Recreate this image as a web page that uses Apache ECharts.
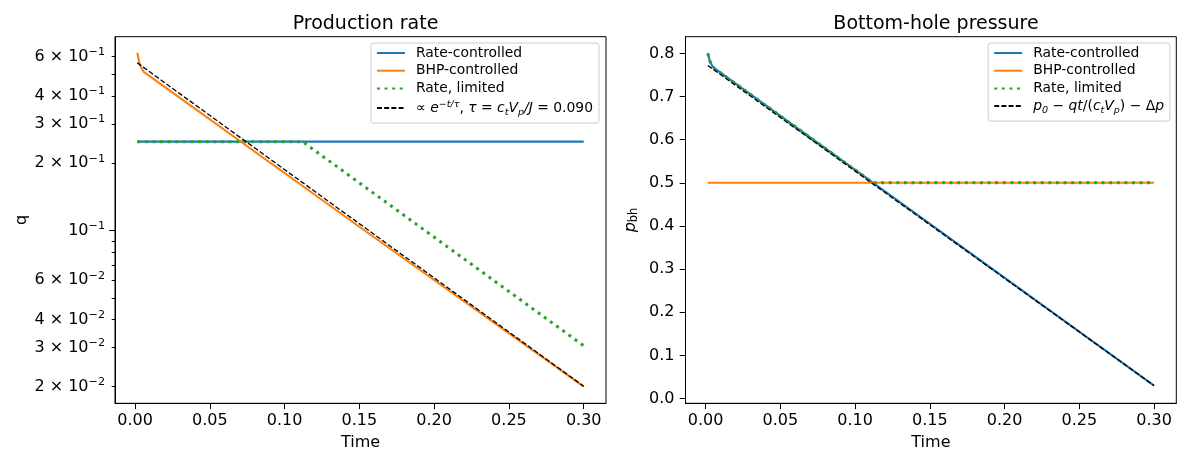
<!DOCTYPE html>
<html>
<head>
<meta charset="utf-8">
<script src="https://cdn.jsdelivr.net/npm/echarts@6/dist/echarts.min.js"></script>
<style>
  html, body { margin: 0; padding: 0; background: #fff; }
  #main { width: 1188px; height: 467px; }
</style>
</head>
<body>
<div id="main"></div>
<script>
// ---- data ----
// Production rate (left panel, log scale)
const tRateQ = [0.0015, 0.3];
const qRate = [0.25, 0.25];
const tBhpQ = [0.0015, 0.003, 0.0045, 0.006, 0.15, 0.3];
const qBhp = [0.625, 0.56, 0.53, 0.512, 0.104, 0.0200];
const tLimQ = [0.0015, 0.112, 0.3];
const qLim = [0.25, 0.25, 0.0305];
const tExpQ = [0.0015, 0.3];
const qExp = [0.563, 0.0201];

// Bottom-hole pressure (right panel)
const tRateP = [0.0015, 0.003, 0.0045, 0.006, 0.3];
const pRate = [0.800, 0.781, 0.771, 0.765, 0.030];
const tBhpP = [0.0015, 0.3];
const pBhp = [0.5, 0.5];
const tLimP = [0.0015, 0.003, 0.0045, 0.006, 0.112, 0.3];
const pLim = [0.800, 0.781, 0.771, 0.765, 0.5, 0.5];
const tLinP = [0.0015, 0.3];
const pLin = [0.772, 0.030];

// ticks
const xTicks = [0, 0.05, 0.1, 0.15, 0.2, 0.25, 0.3];
const qTickVals = [0.02, 0.03, 0.04, 0.06, 0.1, 0.2, 0.3, 0.4, 0.6];
const qTickLabels = ['{b|2 × 10}{s|−2}', '{b|3 × 10}{s|−2}', '{b|4 × 10}{s|−2}', '{b|6 × 10}{s|−2}', '{b|10}{s|−1}',
                     '{b|2 × 10}{s|−1}', '{b|3 × 10}{s|−1}', '{b|4 × 10}{s|−1}', '{b|6 × 10}{s|−1}'];
const qMajorTicks = [0.1];
const qMinorTicks = [0.02, 0.03, 0.04, 0.05, 0.06, 0.07, 0.08, 0.09, 0.2, 0.3, 0.4, 0.5, 0.6];
const pTicks = [0, 0.1, 0.2, 0.3, 0.4, 0.5, 0.6, 0.7, 0.8];

const COLORS = { blue: '#1f77b4', orange: '#ff7f0e', green: '#2ca02c', black: '#000000' };
const FONT = 'DejaVu Sans';
const TICK_FS = 16;

// log-scale panel is drawn on a value axis holding log10(q)
const lg = v => Math.log10(v);
const pairs = (xs, ys, f) => xs.map((x, i) => [x, f ? f(ys[i]) : ys[i]]);

const legendText = {
  'Rate-controlled': '{m|Rate-controlled}',
  'BHP-controlled': '{m|BHP-controlled}',
  'Rate, limited': '{m|Rate, limited}',
  'expFit': '{m|∝ }{i|e}{sup|−t/τ}{m|, }{i|τ}{m| = }{i|c}{sub|t}{i|V}{sub|p}{i|/J}{m| = 0.090}',
  'linFit': '{i|p}{sub|0}{m| − }{i|qt}{m|/(}{i|c}{sub|t}{i|V}{sub|p}{m|) − Δ}{i|p}'
};
const richLegend = {
  m: { fontFamily: FONT, fontSize: 13.9, lineHeight: 18, color: '#000', verticalAlign: 'middle' },
  i: { fontFamily: FONT, fontSize: 13.9, lineHeight: 18, color: '#000', fontStyle: 'italic', verticalAlign: 'middle' },
  sup: { fontFamily: FONT, fontSize: 9.5, lineHeight: 11, color: '#000', fontStyle: 'italic', verticalAlign: 'top' },
  sub: { fontFamily: FONT, fontSize: 9.5, lineHeight: 9, color: '#000', fontStyle: 'italic', verticalAlign: 'bottom' }
};

function legendCfg(right, names) {
  return {
    orient: 'vertical',
    right: right,
    top: 43,
    data: names,
    itemWidth: 28,
    itemHeight: 14,
    itemGap: 3.7,
    padding: [3, 6, 6, 5],
    backgroundColor: 'rgba(255,255,255,0.8)',
    borderColor: '#cccccc',
    borderWidth: 1,
    borderRadius: 3,
    selectedMode: false,
    itemStyle: { opacity: 0, borderWidth: 0 },
    formatter: n => legendText[n] || n,
    textStyle: { fontFamily: FONT, fontSize: 13.9, color: '#000', padding: [0, 0, 0, 6], rich: richLegend }
  };
}

const xAxisCfg = idx => ({
  type: 'value', gridIndex: idx, min: -0.0134, max: 0.3149,
  name: 'Time', nameLocation: 'middle', nameGap: 32,
  nameTextStyle: { fontFamily: FONT, fontSize: TICK_FS, color: '#000' },
  axisLine: { show: true, onZero: false, lineStyle: { color: '#000', width: 1 } },
  axisTick: { show: true, length: 5.8, lineStyle: { color: '#000', width: 1 }, customValues: xTicks },
  axisLabel: { fontFamily: FONT, fontSize: TICK_FS, color: '#000', margin: 10, customValues: xTicks,
               formatter: v => v.toFixed(2) },
  splitLine: { show: false }
});

const line = (name, data, xi, yi, color, extra) => Object.assign({
  name: name, type: 'line', xAxisIndex: xi, yAxisIndex: yi, data: data,
  symbol: 'none', showSymbol: false, animation: false, silent: true,
  lineStyle: { color: color, width: 2.1 }, itemStyle: { color: color }
}, extra || {});

const dotted = { lineStyle: { color: COLORS.green, width: 3, type: [3, 4.6], cap: 'butt' } };
const dashed = { lineStyle: { color: COLORS.black, width: 1.3, type: [5, 2.2], cap: 'butt' } };

const chart = echarts.init(document.getElementById('main'), null, { renderer: 'canvas' });
chart.setOption({
  backgroundColor: '#fff',
  animation: false,
  title: [
    { text: 'Production rate', left: 360.5, top: 7, textAlign: 'center',
      textStyle: { fontFamily: FONT, fontSize: 19, fontWeight: 'normal', color: '#000', lineHeight: 24 } },
    { text: 'Bottom-hole pressure', left: 931, top: 7, textAlign: 'center',
      textStyle: { fontFamily: FONT, fontSize: 19, fontWeight: 'normal', color: '#000', lineHeight: 24 } }
  ],
  grid: [
    { left: 115, top: 36.7, width: 491, height: 366.6, show: true, borderColor: '#000', borderWidth: 1, backgroundColor: 'transparent' },
    { left: 685.5, top: 36.7, width: 490.8, height: 366.6, show: true, borderColor: '#000', borderWidth: 1, backgroundColor: 'transparent' }
  ],
  legend: [
    legendCfg(589, ['Rate-controlled', 'BHP-controlled', 'Rate, limited', 'expFit']),
    legendCfg(18, ['Rate-controlled', 'BHP-controlled', 'Rate, limited', 'linFit'])
  ],
  xAxis: [xAxisCfg(0), xAxisCfg(1)],
  yAxis: [
    { type: 'value', gridIndex: 0, position: 'left', min: -1.7733, max: -0.1323,
      name: 'q', nameLocation: 'middle', nameGap: 85,
      nameTextStyle: { fontFamily: FONT, fontSize: TICK_FS, color: '#000' },
      axisLine: { show: true, onZero: false, lineStyle: { color: '#000', width: 1 } },
      axisTick: { show: true, length: 5.8, lineStyle: { color: '#000', width: 1 }, customValues: qMajorTicks.map(lg) },
      axisLabel: { fontFamily: FONT, fontSize: TICK_FS, color: '#000', margin: 10,
                   customValues: qTickVals.map(lg),
                   rich: {
                     b: { fontFamily: FONT, fontSize: TICK_FS, color: '#000', lineHeight: 20, verticalAlign: 'middle' },
                     s: { fontFamily: FONT, fontSize: 11.2, color: '#000', lineHeight: 12, verticalAlign: 'top' }
                   },
                   formatter: v => {
                     let k = 0, best = Infinity;
                     qTickVals.forEach((t, j) => { const d = Math.abs(lg(t) - v); if (d < best) { best = d; k = j; } });
                     return qTickLabels[k];
                   } },
      splitLine: { show: false } },
    { type: 'value', gridIndex: 0, position: 'left', min: -1.7733, max: -0.1323,
      axisLine: { show: false, onZero: false },
      axisTick: { show: true, length: 3.3, lineStyle: { color: '#000', width: 1 }, customValues: qMinorTicks.map(lg) },
      axisLabel: { show: false },
      splitLine: { show: false } },
    { type: 'value', gridIndex: 1, position: 'left', min: -0.0111, max: 0.8386,
      name: '{i|p}{s|bh}', nameLocation: 'middle', nameGap: 45,
      nameTextStyle: { fontFamily: FONT, fontSize: TICK_FS, color: '#000',
        rich: { i: { fontFamily: FONT, fontSize: TICK_FS, fontStyle: 'italic', color: '#000', lineHeight: 20, verticalAlign: 'middle' },
                s: { fontFamily: FONT, fontSize: 11.5, color: '#000', lineHeight: 12, verticalAlign: 'bottom' } } },
      axisLine: { show: true, onZero: false, lineStyle: { color: '#000', width: 1 } },
      axisTick: { show: true, length: 5.8, lineStyle: { color: '#000', width: 1 }, customValues: pTicks },
      axisLabel: { fontFamily: FONT, fontSize: TICK_FS, color: '#000', margin: 11, customValues: pTicks,
                   formatter: v => v.toFixed(1) },
      splitLine: { show: false } }
  ],
  series: [
    line('Rate-controlled', pairs(tRateQ, qRate, lg), 0, 0, COLORS.blue),
    line('BHP-controlled', pairs(tBhpQ, qBhp, lg), 0, 0, COLORS.orange),
    line('Rate, limited', pairs(tLimQ, qLim, lg), 0, 0, COLORS.green, dotted),
    line('expFit', pairs(tExpQ, qExp, lg), 0, 0, COLORS.black, dashed),
    line('Rate-controlled', pairs(tRateP, pRate), 1, 2, COLORS.blue),
    line('BHP-controlled', pairs(tBhpP, pBhp), 1, 2, COLORS.orange),
    line('Rate, limited', pairs(tLimP, pLim), 1, 2, COLORS.green, dotted),
    line('linFit', pairs(tLinP, pLin), 1, 2, COLORS.black, dashed)
  ]
});
</script>
</body>
</html>
